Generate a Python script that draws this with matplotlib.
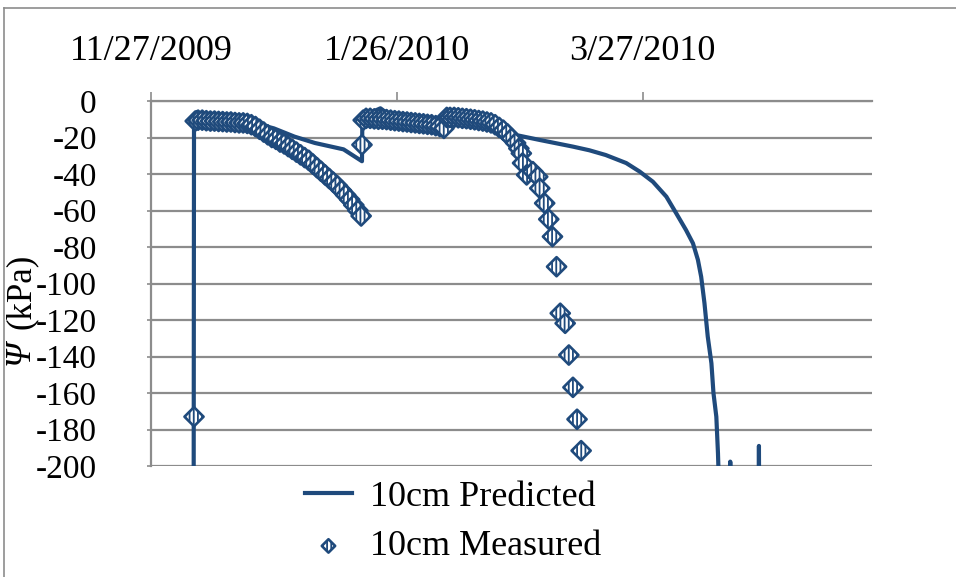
import pandas as pd
import matplotlib
matplotlib.use('Agg')
import matplotlib.pyplot as plt
from matplotlib.lines import Line2D

plt.rcParams['font.family'] = ['Liberation Serif', 'DejaVu Serif']
plt.rcParams['axes.unicode_minus'] = False
plt.rcParams['hatch.linewidth'] = 1.3

START = pd.Timestamp('2009-11-27')

# 10cm predicted (days after 11/27/2009, kPa)
pred_days = [10.4, 10.5, 11.2, 12.5, 16, 20, 25, 30, 35, 40, 47, 51.5,
             51.6, 53, 56, 59, 65, 70, 71.5, 72.1, 73.5, 77, 80, 85, 87,
             89, 95, 103, 107, 111, 116, 119.3, 122.5, 125.8, 128.2, 130.6,
             132.3, 133.5, 134.3, 135.1, 135.9, 136.8, 137.3, 138, 138.4,
             139.2, 141.3, 141.4, 141.5, 148.3, 148.4, 148.5]
pred_vals = [-250, -10, -6, -9.5, -10, -10.5, -12, -15, -19.5, -23, -26.5, -33,
             -8.6, -7, -4, -9, -11, -13.5, -15, -7, -8.5, -9.5, -10.5, -13, -16,
             -18.6, -21.4, -25, -27, -29.6, -34, -38.7, -44.2, -52.4, -61.5, -70.7,
             -78, -87, -96.3, -110.7, -129, -143.7, -160, -173, -193,
             -250, -250, -197.6, -250, -250, -189, -250]

# 10cm measured
meas_days = [10.5, 10.8, 11.5, 12.5, 13.5, 14.5, 15.5, 16.5, 17.5, 18.5, 19.5,
             20.5, 21.5, 22.5, 23.5, 24.5, 25.5, 26.5, 27.5, 28.5, 29.5, 30.5,
             31.5, 32.5, 33.5, 34.5, 35.5, 36.5, 37.5, 38.5, 39.5, 40.5, 41.5,
             42.5, 43.5, 44.5, 45.5, 46.5, 47.5, 48.5, 49.5, 50.5, 51.3, 51.5,
             51.8, 52.5, 53.5, 54.5, 55.5, 56.5, 57.5, 58.5, 59.5, 60.5, 61.5,
             62.5, 63.5, 64.5, 65.5, 66.5, 67.5, 68.5, 69.5, 70.5, 71.5,
             72.2, 73, 74, 75, 76, 77, 78, 79, 80, 81, 82, 83, 84, 85, 86, 87,
             88, 89, 89.8, 90.4, 90.7, 91.7, 93.2, 94.4, 94.9, 96.1, 97.1, 98.0,
             99.0, 99.9, 101.1, 102.0, 103.0, 104.0, 105.0]
meas_vals = [-173, -11, -10.5, -10.5, -10.8, -11, -11, -11.2, -11.3, -11.5, -11.5,
             -11.8, -12, -12, -12.3, -13, -14, -15.5, -17, -18.5, -20, -21,
             -22.5, -23.5, -25, -26.5, -28, -29.5, -31, -32.5, -34.5, -36.5, -38.5,
             -40.5, -42.5, -44.5, -46.5, -49, -51.5, -54, -57, -60, -63, -24,
             -10.5, -9.5, -9.5, -9.8, -10, -10, -10.2, -10.5, -10.8, -11, -11.3,
             -11.5, -11.8, -12, -12.3, -12.5, -12.8, -13, -13.5, -14, -15,
             -9, -9, -9, -9.2, -9.5, -9.7, -10, -10.3, -10.7, -11, -11.5, -12,
             -13, -14.5, -16, -18, -20.5, -23, -26, -28.7, -34, -40.5, -38.7,
             -41.5, -47.8, -56, -64.8, -74.3, -90.8, -116.3, -121.8, -139.2,
             -156.9, -174.4, -191.6]

tick_dates = ['2009-11-27', '2010-01-26', '2010-03-27']
tick_labels = ['11/27/2009', '1/26/2010', '3/27/2010']
y_ticks = list(range(-200, 1, 20))

blue = '#1F4A7C'
grey = '#8C8C8C'
plt.rcParams['hatch.color'] = blue

pred_x = START + pd.to_timedelta(pred_days, unit='D')
meas_x = START + pd.to_timedelta(meas_days, unit='D')

fig = plt.figure(figsize=(9.56, 5.77), dpi=100)
ax = fig.add_axes([151 / 956, 1 - 466 / 577, (872 - 151) / 956, (466 - 101) / 577])

line, = ax.plot(pred_x, pred_vals, color=blue, lw=3, zorder=3)
sc = ax.scatter(meas_x, meas_vals, marker='D', s=95, facecolor='white',
                edgecolor=blue, linewidths=1.9, hatch='||||', zorder=4)

ax.set_ylim(-200, 0)
ax.set_xlim(START, START + pd.Timedelta(days=176))
ax.set_yticks(y_ticks)
ax.set_yticklabels([str(v) for v in y_ticks])
ax.set_xticks(pd.to_datetime(tick_dates))
ax.set_xticklabels(tick_labels)
ax.xaxis.tick_top()

ax.grid(axis='y', color=grey, lw=1.6)
ax.set_axisbelow(True)
for s in ['right', 'bottom']:
    ax.spines[s].set_visible(False)
for s in ['left', 'top']:
    ax.spines[s].set_color(grey)
    ax.spines[s].set_linewidth(1.6)
ax.tick_params(axis='x', direction='out', length=6.5, width=1.2, color=grey,
               pad=17, labelsize=26)
ax.tick_params(axis='y', direction='out', length=3, width=1.2, color=grey,
               pad=36, labelsize=24)

# y-axis title: italic Psi followed by (kPa), reading bottom to top
fig.text(20 / 956, 1 - 353 / 577, 'Ψ', rotation=90, ha='center', va='center',
         fontsize=25, style='italic')
fig.text(21 / 956, 1 - 291 / 577, '(kPa)', rotation=90, ha='center', va='center',
         fontsize=25)

fig.legend(handles=[line, sc], labels=['10cm Predicted', '10cm Measured'],
           loc='center left', bbox_to_anchor=(305 / 956, 1 - 522 / 577),
           frameon=False, fontsize=26, handlelength=1.3, handletextpad=0.5,
           labelspacing=0.45, borderpad=0, borderaxespad=0, markerscale=0.7,
           scatterpoints=1)

# outer chart border (left and top edges visible)
fig.add_artist(Line2D([4 / 956, 4 / 956], [0, 1 - 8 / 577], transform=fig.transFigure,
                      color=grey, lw=1.2))
fig.add_artist(Line2D([4 / 956, 1], [1 - 8 / 577, 1 - 8 / 577], transform=fig.transFigure,
                      color=grey, lw=1.2))

fig.savefig('out.png', dpi=100)
